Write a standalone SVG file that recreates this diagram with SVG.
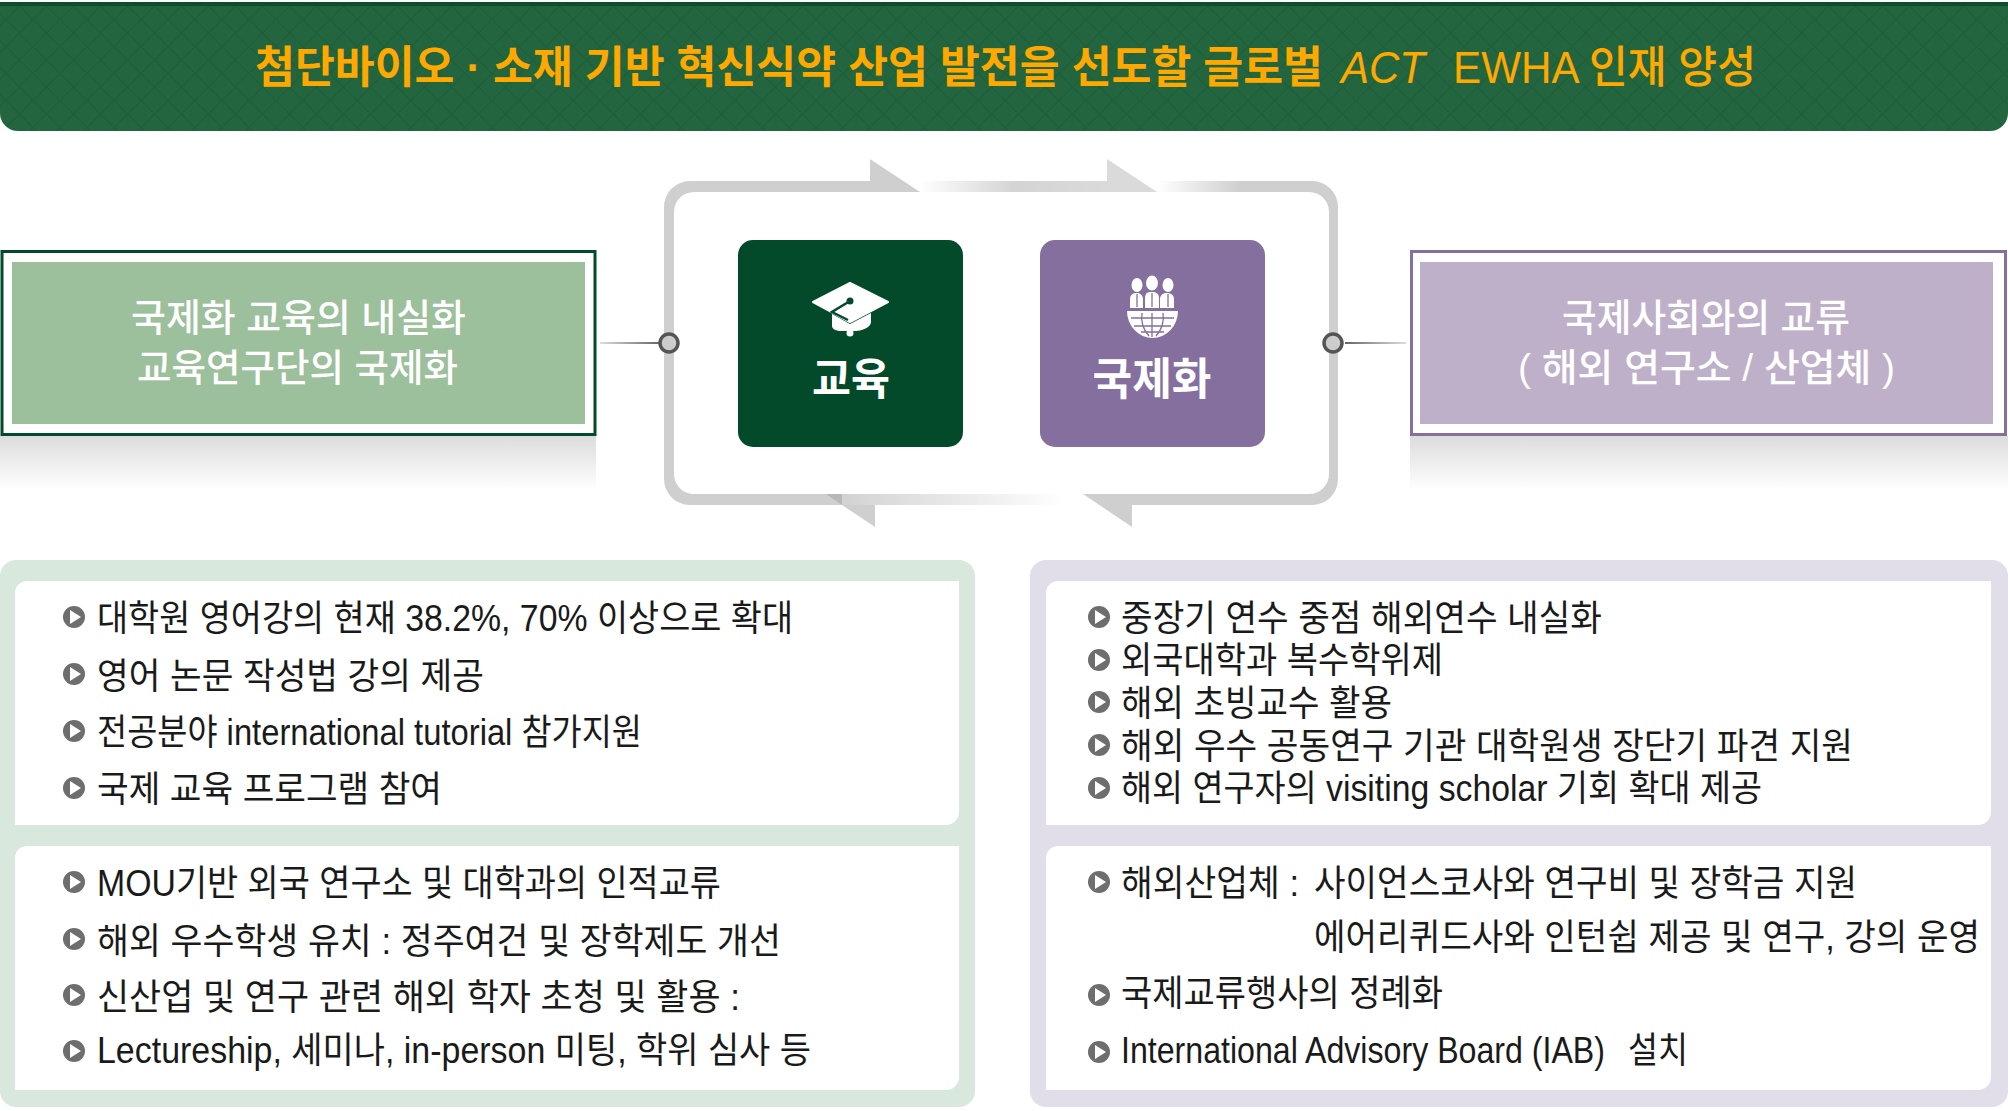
<svg xmlns="http://www.w3.org/2000/svg" width="2008" height="1111" viewBox="0 0 2008 1111">
<defs>
<style>
text{font-family:"Liberation Sans","Noto Sans CJK KR",sans-serif}
.b{font-size:36px;font-weight:400;fill:#1a1a1a}
.h{font-size:44px;font-weight:700;fill:#ffa800}
.w{font-size:38px;font-weight:500;fill:#fff}
.c{font-size:44px;font-weight:700;fill:#fff;text-anchor:middle}
.fr{fill:#cfcfcf}
</style>
<pattern id="dia" width="27" height="27" patternUnits="userSpaceOnUse" patternTransform="translate(6 6)">
<rect width="27" height="27" fill="#22653f"/>
<path d="M0 13.500L13.500 0L27 13.500L13.500 27Z" fill="none" stroke="#1e5f3a" stroke-width="1.200"/>
</pattern>
<linearGradient id="shg" x1="0" y1="0" x2="0" y2="1"><stop offset="0" stop-color="#dcdcdc"/><stop offset="1" stop-color="#fff"/></linearGradient>
<linearGradient id="a1" gradientUnits="userSpaceOnUse" x1="920" y1="0" x2="1107" y2="0"><stop offset="0" stop-color="#fff"/><stop offset=".5" stop-color="#d4d4d4"/><stop offset="1" stop-color="#dadada"/></linearGradient>
<linearGradient id="a2" gradientUnits="userSpaceOnUse" x1="1157" y1="0" x2="1240" y2="0"><stop offset="0" stop-color="#fff"/><stop offset="1" stop-color="#cfcfcf"/></linearGradient>
<linearGradient id="a3" gradientUnits="userSpaceOnUse" x1="1065" y1="0" x2="842" y2="0"><stop offset="0" stop-color="#fff"/><stop offset="1" stop-color="#d2d2d2"/></linearGradient>
<linearGradient id="ll" gradientUnits="userSpaceOnUse" x1="600" y1="0" x2="660" y2="0"><stop offset="0" stop-color="#ddd"/><stop offset="1" stop-color="#666"/></linearGradient>
<linearGradient id="lr" gradientUnits="userSpaceOnUse" x1="1345" y1="0" x2="1406" y2="0"><stop offset="0" stop-color="#666"/><stop offset="1" stop-color="#ddd"/></linearGradient>
<g id="bul"><circle r="11" fill="#6e6e6e"/><path d="M-4 -7L7 0L-4 7Z" fill="#fff"/></g>
</defs>
<rect width="2008" height="1111" fill="#fff"/>

<g id="header">
<path d="M0 2H2008V113a18 18 0 0 1-18 18H18a18 18 0 0 1-18-18Z" fill="url(#dia)"/>
<rect x="0" y="2" width="2008" height="4" fill="#0c4d2c"/>
<text class="h" x="255" y="83" textLength="1068" lengthAdjust="spacingAndGlyphs">첨단바이오 · 소재 기반 혁신식약 산업 발전을 선도할 글로벌</text>
<text class="h" x="1341" y="83" textLength="84" lengthAdjust="spacingAndGlyphs" font-style="italic" style="font-weight:400">ACT</text>
<text class="h" x="1453" y="83" textLength="303" lengthAdjust="spacingAndGlyphs" style="font-weight:500">EWHA 인재 양성</text>
</g>

<g id="connectors">
<path d="M870 181H690a26 26 0 0 0-26 26V479a26 26 0 0 0 26 26H842V494H694a20 20 0 0 1-20-20V212a20 20 0 0 1 20-20H870Z" class="fr"/>
<path d="M870 159L920 192H870Z" class="fr"/>
<rect x="920" y="181" width="187" height="11" fill="url(#a1)"/>
<path d="M1107 159L1157 192H1107Z" fill="#dadada"/>
<rect x="1157" y="181" width="83" height="11" fill="url(#a2)"/>
<path d="M1240 181H1312a26 26 0 0 1 26 26V479a26 26 0 0 1-26 26H1132V494H1309a20 20 0 0 0 20-20V212a20 20 0 0 0-20-20H1240Z" class="fr"/>
<path d="M1083 494L1132 527V494Z" fill="#cfcfcf"/>
<rect x="842" y="494" width="223" height="11" fill="url(#a3)"/>
<path d="M826 494L842 505V494Z" fill="#b8b8b8"/>
<path d="M842 505L875 527V505Z" fill="#cfcfcf"/>
<rect x="600" y="342" width="60" height="2" fill="url(#ll)"/>
<rect x="1345" y="342" width="61" height="2" fill="url(#lr)"/>
<circle cx="669" cy="343" r="9" fill="#ccc" stroke="#555" stroke-width="3.500"/>
<circle cx="1333" cy="343" r="9" fill="#ccc" stroke="#555" stroke-width="3.500"/>
</g>

<g id="card-edu">
<rect x="738" y="240" width="225" height="207" rx="15" fill="#034a2b"/>
<path d="M850 283L888 302L850 322L813 302Z" fill="#fff" stroke="#fff" stroke-width="2" stroke-linejoin="round"/>
<path d="M832 314L850 324L871 313V322C871 328 860 331 856 331H842C836 331 832 329 832 326Z" fill="#fff"/>
<circle cx="850" cy="333" r="3.500" fill="#fff"/>
<circle cx="850" cy="301" r="3.500" fill="#034a2b"/>
<path d="M850 301L832 312L848 320" fill="none" stroke="#034a2b" stroke-width="2.500"/>
<text class="c" x="851" y="395" textLength="78" lengthAdjust="spacingAndGlyphs">교육</text>
</g>

<g id="card-intl">
<rect x="1040" y="240" width="225" height="207" rx="15" fill="#846f9f"/>
<g fill="#fff">
<ellipse cx="1137" cy="285" rx="5.500" ry="7"/><ellipse cx="1152" cy="283" rx="6" ry="7.500"/><ellipse cx="1168" cy="285" rx="5.500" ry="7"/>
<path d="M1130 308V299q0-5 5-6h3q4 1 5 5v10Z"/><path d="M1145 308V298q0-6 5-6h4q5 1 5 6v10Z"/><path d="M1160 308V298q1-4 5-5h3q6 1 6 6v9Z"/>
<path d="M1127 311H1178A25.500 27 0 0 1 1127 311Z"/>
</g>
<g fill="none" stroke="#846f9f" stroke-width="1.300">
<path d="M1137 294V307M1152 293V307M1168 294V307"/>
<path d="M1131 318H1174M1134 326H1171M1141 332H1164M1142 313Q1140 326 1149 336M1152 313V337M1163 313Q1165 326 1156 336"/>
</g>
<text class="c" x="1152" y="395" textLength="119" lengthAdjust="spacingAndGlyphs">국제화</text>
</g>

<g id="box-left">
<rect x="0" y="436" width="596" height="54" fill="url(#shg)"/>
<rect x="2" y="251.500" width="593" height="183" fill="#fff" stroke="#034a2b" stroke-width="3"/>
<rect x="12" y="262" width="573" height="162" fill="#9cbf9c"/>
<text class="w" x="131" y="331" textLength="335" lengthAdjust="spacingAndGlyphs">국제화 교육의 내실화</text>
<text class="w" x="137" y="381" textLength="321" lengthAdjust="spacingAndGlyphs">교육연구단의 국제화</text>
</g>

<g id="box-right">
<rect x="1410" y="436" width="598" height="54" fill="url(#shg)"/>
<rect x="1411.500" y="251.500" width="594" height="183" fill="#fff" stroke="#846f9f" stroke-width="3"/>
<rect x="1420" y="262" width="573" height="162" fill="#bfb0c9"/>
<text class="w" x="1562" y="331" textLength="288" lengthAdjust="spacingAndGlyphs">국제사회와의 교류</text>
<text class="w" x="1518" y="381" textLength="377" lengthAdjust="spacingAndGlyphs">( 해외 연구소 / 산업체 )</text>
</g>

<g id="panel-left">
<rect x="0" y="560" width="975" height="547" rx="16" fill="#d9e8dc"/>
<path d="M27 581H959V812a13 13 0 0 1-13 13H15V593a12 12 0 0 1 12-12Z" fill="#fff"/>
<path d="M27 846H959V1077a13 13 0 0 1-13 13H15V858a12 12 0 0 1 12-12Z" fill="#fff"/>
<use href="#bul" x="74" y="617"/><use href="#bul" x="74" y="674"/><use href="#bul" x="74" y="731"/><use href="#bul" x="74" y="788"/>
<use href="#bul" x="74" y="882"/><use href="#bul" x="74" y="939"/><use href="#bul" x="74" y="995"/><use href="#bul" x="74" y="1051"/>
<text class="b" x="97" y="631" textLength="696" lengthAdjust="spacingAndGlyphs">대학원 영어강의 현재 38.2%, 70% 이상으로 확대</text>
<text class="b" x="97" y="689" textLength="387" lengthAdjust="spacingAndGlyphs">영어 논문 작성법 강의 제공</text>
<text class="b" x="97" y="745" textLength="545" lengthAdjust="spacingAndGlyphs">전공분야 international tutorial 참가지원</text>
<text class="b" x="97" y="802" textLength="345" lengthAdjust="spacingAndGlyphs">국제 교육 프로그램 참여</text>
<text class="b" x="97" y="896" textLength="624" lengthAdjust="spacingAndGlyphs">MOU기반 외국 연구소 및 대학과의 인적교류</text>
<text class="b" x="97" y="954" textLength="684" lengthAdjust="spacingAndGlyphs">해외 우수학생 유치 : 정주여건 및 장학제도 개선</text>
<text class="b" x="97" y="1010" textLength="643" lengthAdjust="spacingAndGlyphs">신산업 및 연구 관련 해외 학자 초청 및 활용 :</text>
<text class="b" x="97" y="1063" textLength="714" lengthAdjust="spacingAndGlyphs">Lectureship, 세미나, in-person 미팅, 학위 심사 등</text>
</g>

<g id="panel-right">
<rect x="1030" y="560" width="978" height="547" rx="16" fill="#e1dde9"/>
<path d="M1058 581H1991V812a13 13 0 0 1-13 13H1046V593a12 12 0 0 1 12-12Z" fill="#fff"/>
<path d="M1058 846H1991V1077a13 13 0 0 1-13 13H1046V858a12 12 0 0 1 12-12Z" fill="#fff"/>
<use href="#bul" x="1099" y="617"/><use href="#bul" x="1099" y="660"/><use href="#bul" x="1099" y="702"/><use href="#bul" x="1099" y="745"/><use href="#bul" x="1099" y="788"/>
<use href="#bul" x="1099" y="882"/><use href="#bul" x="1099" y="995"/><use href="#bul" x="1099" y="1052"/>
<text class="b" x="1121" y="631" textLength="481" lengthAdjust="spacingAndGlyphs">중장기 연수 중점 해외연수 내실화</text>
<text class="b" x="1121" y="673" textLength="322" lengthAdjust="spacingAndGlyphs">외국대학과 복수학위제</text>
<text class="b" x="1121" y="716" textLength="271" lengthAdjust="spacingAndGlyphs">해외 초빙교수 활용</text>
<text class="b" x="1121" y="759" textLength="732" lengthAdjust="spacingAndGlyphs">해외 우수 공동연구 기관 대학원생 장단기 파견 지원</text>
<text class="b" x="1121" y="801" textLength="641" lengthAdjust="spacingAndGlyphs">해외 연구자의 visiting scholar 기회 확대 제공</text>
<text class="b" x="1121" y="896" textLength="178" lengthAdjust="spacingAndGlyphs">해외산업체 :</text>
<text class="b" x="1314" y="896" textLength="543" lengthAdjust="spacingAndGlyphs">사이언스코사와 연구비 및 장학금 지원</text>
<text class="b" x="1314" y="950" textLength="666" lengthAdjust="spacingAndGlyphs">에어리퀴드사와 인턴쉽 제공 및 연구, 강의 운영</text>
<text class="b" x="1121" y="1006" textLength="322" lengthAdjust="spacingAndGlyphs">국제교류행사의 정례화</text>
<text class="b" x="1121" y="1063" textLength="484" lengthAdjust="spacingAndGlyphs">International Advisory Board (IAB)</text>
<text class="b" x="1628" y="1063" textLength="60" lengthAdjust="spacingAndGlyphs">설치</text>
</g>
</svg>
